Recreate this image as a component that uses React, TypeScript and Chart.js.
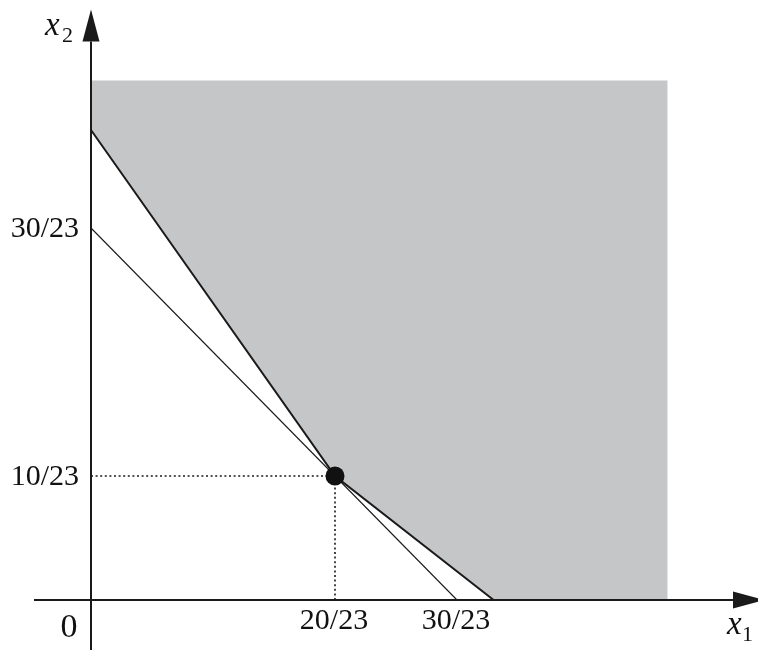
import React, { useEffect, useRef } from "react";
import { Chart, registerables } from "chart.js";

Chart.register(...registerables);

// All coordinates are numerators over a common denominator of 23.
const DEN = 23;

// Labelled tick positions on each axis.
const xTickValues = [20, 30];
const yTickValues = [10, 30];

// Constraint x1 + x2 = 30/23 (thin line).
const thinLineX = [0, 30];
const thinLineY = [30, 0];

// Lower boundary of the feasible region (thick polyline).
const boundaryX = [0, 20, 33];
const boundaryY = [37.9, 10, 0];

// Shaded feasible region polygon.
const regionX = [0, 0, 20, 33, 47.25, 47.25];
const regionY = [41.9, 37.9, 10, 0, 0, 41.9];

// Optimal vertex and its guide lines.
const optimumX = [20];
const optimumY = [10];
const guideHX = [0, 20];
const guideHY = [10, 10];
const guideVX = [20, 20];
const guideVY = [0, 10];

const W = 758;
const H = 650;

const toPoints = (xs: number[], ys: number[]) =>
  xs.map((x, i) => ({ x: x / DEN, y: ys[i] / DEN }));

const frac = (n: number) => `${n}/${DEN}`;

const INK = "#1a1a1a";
const SERIF = '"Liberation Serif", "DejaVu Serif", serif';

const axesPlugin = {
  id: "mathAxes",
  afterDatasetsDraw(chart: any) {
    const ctx = chart.ctx as CanvasRenderingContext2D;
    const xs = chart.scales.x;
    const ys = chart.scales.y;
    const ox = xs.getPixelForValue(0);
    const oy = ys.getPixelForValue(0);

    ctx.save();
    ctx.strokeStyle = INK;
    ctx.fillStyle = INK;
    ctx.lineWidth = 2;

    // x axis
    const xArrowBase = 733;
    ctx.beginPath();
    ctx.moveTo(34, oy);
    ctx.lineTo(xArrowBase, oy);
    ctx.stroke();
    ctx.beginPath();
    ctx.moveTo(xArrowBase, oy - 8.5);
    ctx.lineTo(xArrowBase + 32, oy);
    ctx.lineTo(xArrowBase, oy + 8.5);
    ctx.closePath();
    ctx.fill();

    // y axis
    const yArrowBase = 41.5;
    ctx.beginPath();
    ctx.moveTo(ox, H);
    ctx.lineTo(ox, yArrowBase);
    ctx.stroke();
    ctx.beginPath();
    ctx.moveTo(ox - 8.5, yArrowBase);
    ctx.lineTo(ox, yArrowBase - 32);
    ctx.lineTo(ox + 8.5, yArrowBase);
    ctx.closePath();
    ctx.fill();

    // tick labels
    ctx.fillStyle = "#111";
    ctx.font = `30px ${SERIF}`;
    ctx.textBaseline = "middle";
    ctx.textAlign = "right";
    yTickValues.forEach((v) => {
      ctx.fillText(frac(v), ox - 12, ys.getPixelForValue(v / DEN) + 1);
    });
    ctx.textAlign = "center";
    xTickValues.forEach((v) => {
      ctx.fillText(frac(v), xs.getPixelForValue(v / DEN) - 1, oy + 21);
    });
    ctx.font = `34px ${SERIF}`;
    ctx.fillText("0", ox - 22, oy + 28);

    // axis names
    ctx.textAlign = "left";
    ctx.textBaseline = "alphabetic";
    ctx.font = `italic 33px ${SERIF}`;
    ctx.fillText("x", 45, 35);
    ctx.font = `22px ${SERIF}`;
    ctx.fillText("2", 62, 42);
    ctx.font = `italic 33px ${SERIF}`;
    ctx.fillText("x", 727, 634);
    ctx.font = `22px ${SERIF}`;
    ctx.fillText("1", 742, 641);

    ctx.restore();
  },
};

export default function App() {
  const ref = useRef<HTMLCanvasElement | null>(null);

  useEffect(() => {
    if (!ref.current) return;
    const pxX = 12.2; // pixels per 1/23 on x
    const pxY = 12.4; // pixels per 1/23 on y
    const originX = 91;
    const originY = 600;

    const chart = new Chart(ref.current, {
      type: "line",
      data: {
        datasets: [
          {
            data: toPoints(optimumX, optimumY),
            order: 0,
            showLine: false,
            pointRadius: 9.5,
            pointHoverRadius: 9.5,
            pointBackgroundColor: "#111",
            pointBorderColor: "#111",
            pointBorderWidth: 0,
          },
          {
            data: toPoints(boundaryX, boundaryY),
            order: 1,
            borderColor: INK,
            borderWidth: 2,
            pointRadius: 0,
            fill: false,
          },
          {
            data: toPoints(thinLineX, thinLineY),
            order: 2,
            borderColor: INK,
            borderWidth: 1.1,
            pointRadius: 0,
            fill: false,
          },
          {
            data: toPoints(guideHX, guideHY),
            order: 3,
            borderColor: INK,
            borderWidth: 1.6,
            borderDash: [2, 2.6],
            pointRadius: 0,
            fill: false,
          },
          {
            data: toPoints(guideVX, guideVY),
            order: 3,
            borderColor: INK,
            borderWidth: 1.6,
            borderDash: [2, 2.6],
            pointRadius: 0,
            fill: false,
          },
          {
            data: toPoints(regionX, regionY),
            order: 4,
            borderWidth: 0,
            borderColor: "rgba(0,0,0,0)",
            backgroundColor: "#c5c6c8",
            pointRadius: 0,
            fill: "shape",
          },
        ],
      },
      options: {
        animation: false,
        responsive: false,
        events: [],
        layout: { padding: 0, autoPadding: false },
        plugins: {
          legend: { display: false },
          tooltip: { enabled: false },
        },
        elements: { line: { tension: 0 } },
        scales: {
          x: {
            type: "linear",
            display: false,
            min: -originX / pxX / DEN,
            max: (W - originX) / pxX / DEN,
          },
          y: {
            type: "linear",
            display: false,
            min: -(H - originY) / pxY / DEN,
            max: originY / pxY / DEN,
          },
        },
      },
      plugins: [axesPlugin],
    });
    return () => chart.destroy();
  }, []);

  return (
    <div
      style={{
        position: "fixed",
        left: 0,
        top: 0,
        width: W,
        height: H,
        background: "#fff",
      }}
    >
      <canvas ref={ref} width={W} height={H} style={{ display: "block" }} />
    </div>
  );
}
